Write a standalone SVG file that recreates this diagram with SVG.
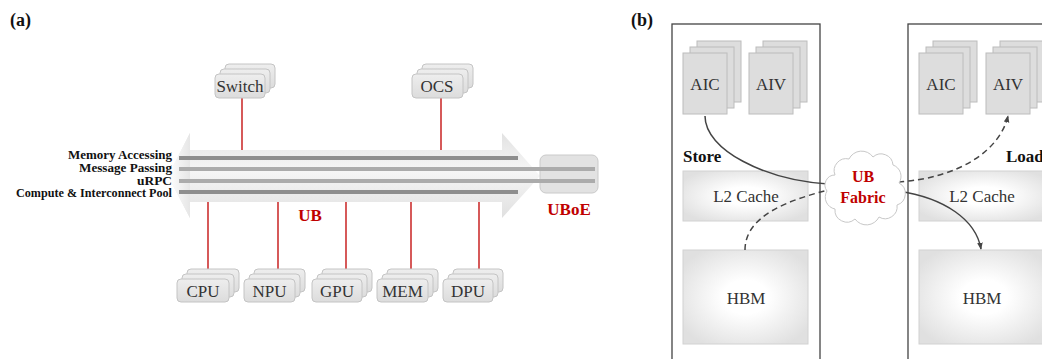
<svg xmlns="http://www.w3.org/2000/svg" width="1042" height="359" viewBox="0 0 1042 359">
<defs>
<linearGradient id="arrowG" x1="0" y1="0" x2="0" y2="1">
<stop offset="0" stop-color="#e2e2e2"/>
<stop offset="0.45" stop-color="#f6f6f6"/>
<stop offset="1" stop-color="#e0e0e0"/>
</linearGradient>
<linearGradient id="arrowL" x1="0" y1="0" x2="1" y2="0">
<stop offset="0" stop-color="#ffffff"/>
<stop offset="1" stop-color="#e6e6e6"/>
</linearGradient>
<linearGradient id="nodeG" x1="0" y1="0" x2="0" y2="1">
<stop offset="0" stop-color="#eeeeee"/>
<stop offset="1" stop-color="#dcdcdc"/>
</linearGradient>
<radialGradient id="memG" cx="0.5" cy="0.5" r="0.6">
<stop offset="0.3" stop-color="#ffffff"/>
<stop offset="1" stop-color="#e0e0e0"/>
</radialGradient>
<marker id="ah" viewBox="0 0 10 10" refX="9" refY="5" markerWidth="7" markerHeight="7" orient="auto-start-reverse" markerUnits="userSpaceOnUse">
<path d="M0,1 L10,5 L0,9 z" fill="#444"/>
</marker>
<style>
.lbl{font-family:"Liberation Serif","Times New Roman",serif;font-weight:bold;fill:#111}
.side{font-size:11.5px;text-anchor:end}
.nt{font-family:"Liberation Serif","Times New Roman",serif;font-size:17px;fill:#333;text-anchor:middle}
.red{font-family:"Liberation Serif","Times New Roman",serif;font-weight:bold;fill:#c00000;text-anchor:middle}
.stk{fill:url(#nodeG);stroke:#c4c4c4;stroke-width:1}
.pe{fill:#dddddd;stroke:#bcbcbc;stroke-width:1}
.mem{fill:url(#memG);stroke:#d2d2d2;stroke-width:1}
.rl{stroke:#c00000;stroke-width:1.3;fill:none}
.box{fill:none;stroke:#444;stroke-width:1.3}
.cv{fill:none;stroke:#444;stroke-width:1.5}
.dcv{fill:none;stroke:#444;stroke-width:1.5;stroke-dasharray:6,4}
</style>
</defs>
<rect width="1042" height="359" fill="#ffffff"/>

<!-- panel labels -->
<text class="lbl" x="10" y="26" font-size="18">(a)</text>
<text class="lbl" x="631" y="26" font-size="18">(b)</text>

<!-- ===== Panel (a) ===== -->
<g id="bus">
<polygon points="168,176 190,133 190,150 502,150 502,133 540,176 502,218 502,202 190,202 190,218" fill="url(#arrowG)"/>
<polygon points="168,176 190,133 190,218" fill="url(#arrowL)"/>
<g id="uboe">
<rect x="540" y="155" width="58" height="38" rx="6" fill="#e2e2e2" stroke="#cacaca"/>
</g>
<line x1="179" y1="158" x2="518" y2="158" stroke="#8e8e8e" stroke-width="4"/>
<line x1="179" y1="169" x2="595" y2="169" stroke="#ababab" stroke-width="4"/>
<line x1="179" y1="181" x2="595" y2="181" stroke="#ababab" stroke-width="4"/>
<line x1="179" y1="192" x2="518" y2="192" stroke="#8e8e8e" stroke-width="4"/>
<text class="lbl side" x="172" y="159" textLength="104" lengthAdjust="spacingAndGlyphs">Memory Accessing</text>
<text class="lbl side" x="172" y="172" textLength="93" lengthAdjust="spacingAndGlyphs">Message Passing</text>
<text class="lbl side" x="172" y="185" textLength="35" lengthAdjust="spacingAndGlyphs">uRPC</text>
<text class="lbl side" x="172" y="197" textLength="156" lengthAdjust="spacingAndGlyphs">Compute &amp; Interconnect Pool</text>
<text class="red" x="310" y="221" font-size="17">UB</text>
<text class="red" x="569" y="215" font-size="17">UBoE</text>
</g>

<g id="a-connectors">
<line class="rl" x1="242" y1="98" x2="242" y2="150"/>
<line class="rl" x1="441" y1="98" x2="441" y2="150"/>
<line class="rl" x1="208" y1="202" x2="208" y2="270"/>
<line class="rl" x1="278" y1="202" x2="278" y2="270"/>
<line class="rl" x1="346" y1="202" x2="346" y2="270"/>
<line class="rl" x1="411" y1="202" x2="411" y2="270"/>
<line class="rl" x1="479" y1="202" x2="479" y2="270"/>
</g>

<g id="switch">
<rect class="stk" x="225" y="64" width="50" height="24" rx="4"/>
<rect class="stk" x="220" y="69" width="50" height="24" rx="4"/>
<rect class="stk" x="215" y="74" width="50" height="24" rx="4"/>
<text class="nt" x="240" y="92" font-size="16">Switch</text>
</g>
<g id="ocs">
<rect class="stk" x="422" y="64" width="51" height="24" rx="4"/>
<rect class="stk" x="417" y="69" width="51" height="24" rx="4"/>
<rect class="stk" x="412" y="74" width="51" height="24" rx="4"/>
<text class="nt" x="437" y="92" font-size="16">OCS</text>
</g>
<g id="cpu">
<rect class="stk" x="187" y="269" width="52" height="23" rx="4"/>
<rect class="stk" x="182" y="274" width="52" height="23" rx="4"/>
<rect class="stk" x="177" y="279" width="52" height="23" rx="4"/>
<text class="nt" x="203" y="297" font-size="16">CPU</text>
</g>
<g id="npu">
<rect class="stk" x="254" y="269" width="51" height="23" rx="4"/>
<rect class="stk" x="249" y="274" width="51" height="23" rx="4"/>
<rect class="stk" x="244" y="279" width="51" height="23" rx="4"/>
<text class="nt" x="269.5" y="297" font-size="16">NPU</text>
</g>
<g id="gpu">
<rect class="stk" x="322" y="269" width="50" height="23" rx="4"/>
<rect class="stk" x="317" y="274" width="50" height="23" rx="4"/>
<rect class="stk" x="312" y="279" width="50" height="23" rx="4"/>
<text class="nt" x="337" y="297" font-size="16">GPU</text>
</g>
<g id="mem">
<rect class="stk" x="387" y="269" width="51" height="23" rx="4"/>
<rect class="stk" x="382" y="274" width="51" height="23" rx="4"/>
<rect class="stk" x="377" y="279" width="51" height="23" rx="4"/>
<text class="nt" x="402.5" y="297" font-size="16">MEM</text>
</g>
<g id="dpu">
<rect class="stk" x="453" y="269" width="50" height="23" rx="4"/>
<rect class="stk" x="448" y="274" width="50" height="23" rx="4"/>
<rect class="stk" x="443" y="279" width="50" height="23" rx="4"/>
<text class="nt" x="468" y="297" font-size="16">DPU</text>
</g>

<!-- ===== Panel (b) ===== -->
<g id="store-chip">
<rect class="box" x="672" y="24" width="148" height="345"/>
<text class="lbl" x="683" y="162" font-size="17">Store</text>
</g>
<g id="load-chip">
<rect class="box" x="908" y="24" width="150" height="345"/>
<text class="lbl" x="1006" y="162" font-size="17">Load</text>
</g>
<g id="aic-l">
<rect class="pe" x="697" y="41" width="44" height="61"/>
<rect class="pe" x="690" y="47" width="44" height="61"/>
<rect class="pe" x="683" y="53" width="44" height="61"/>
<text class="nt" x="705" y="90">AIC</text>
</g>
<g id="aiv-l">
<rect class="pe" x="763" y="41" width="44" height="61"/>
<rect class="pe" x="756" y="47" width="44" height="61"/>
<rect class="pe" x="749" y="53" width="44" height="61"/>
<text class="nt" x="771" y="90">AIV</text>
</g>
<g id="l2-l">
<rect class="mem" x="683" y="171" width="125" height="50"/>
<text class="nt" x="746" y="202">L2 Cache</text>
</g>
<g id="hbm-l">
<rect class="mem" x="683" y="250" width="125" height="94"/>
<text class="nt" x="746" y="304">HBM</text>
</g>
<g id="aic-r">
<rect class="pe" x="933" y="41" width="44" height="61"/>
<rect class="pe" x="926" y="47" width="44" height="61"/>
<rect class="pe" x="919" y="53" width="44" height="61"/>
<text class="nt" x="941" y="90">AIC</text>
</g>
<g id="aiv-r">
<rect class="pe" x="1000" y="41" width="44" height="61"/>
<rect class="pe" x="993" y="47" width="44" height="61"/>
<rect class="pe" x="986" y="53" width="44" height="61"/>
<text class="nt" x="1008" y="90">AIV</text>
</g>
<g id="l2-r">
<rect class="mem" x="919" y="171" width="130" height="50"/>
<text class="nt" x="982" y="202">L2 Cache</text>
</g>
<g id="hbm-r">
<rect class="mem" x="919" y="250" width="130" height="94"/>
<text class="nt" x="982" y="304">HBM</text>
</g>

<g id="b-connectors">
<path class="cv" d="M705,116 C705,150 765,180 828,184"/>
<path class="cv" d="M898,191 C945,198 976,220 981,249" marker-end="url(#ah)"/>
<path class="dcv" d="M745,250 C745,215 790,200 828,190"/>
<path class="dcv" d="M898,182 C960,178 1000,150 1008,116" marker-end="url(#ah)"/>
</g>

<g id="ub-fabric">
<path d="M835,175 A12,12 0 0,1 849,159 A14,14 0 0,1 873,157 A12,12 0 0,1 893,165 A12,12 0 0,1 899,183 A12,12 0 0,1 897,205 A12,12 0 0,1 879,217 A14,14 0 0,1 855,219 A12,12 0 0,1 835,209 A12,12 0 0,1 827,191 A10,10 0 0,1 835,175 Z" fill="#ffffff" stroke="#c8c8c8" stroke-width="1"/>
<text class="red" x="863" y="182" font-size="16">UB</text>
<text class="red" x="863" y="203" font-size="16">Fabric</text>
</g>
</svg>
